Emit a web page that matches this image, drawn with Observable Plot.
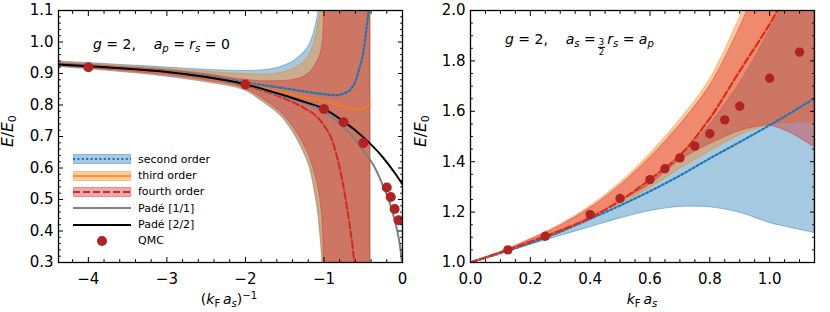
<!DOCTYPE html>
<html><head><meta charset="utf-8">
<script src="https://cdn.jsdelivr.net/npm/d3@7"></script>
<script src="https://cdn.jsdelivr.net/npm/@observablehq/plot@0.6"></script>
<style>
body{margin:0;background:#fff;}
#wrap{position:relative;width:830px;height:312px;font-family:"DejaVu Sans",sans-serif;color:#000;overflow:hidden;}
.panel{position:absolute;top:0;}
.lbl{position:absolute;font-size:14px;white-space:nowrap;line-height:1;}
.ylbl{font-size:15.5px;}
.sb{font-size:0.72em;position:relative;top:0.28em;}
.sp{font-size:0.72em;position:relative;top:-0.45em;}
.frac{display:inline-flex;flex-direction:column;align-items:center;font-size:8.5px;vertical-align:-0.15em;line-height:1;margin:0 2px;}
.frac span:last-child{border-top:0.8px solid #000;padding:0 1px;}
.leg{position:absolute;left:73px;height:16px;display:flex;align-items:center;font-size:11px;white-space:nowrap;}
.leg svg{margin-right:7px;}
</style></head><body><div id="wrap"></div>
<script>
// ---------------- Left panel data ----------------
const L_bandX   = [-4.4,-4,-3.5,-3,-2.5,-2,-1.75,-1.5,-1.35,-1.25,-1.17,-1.11,-1.07,-1.04,-1.02,-1.0,-0.98,-0.41];
const L_blueHi  = [0.938,0.933,0.926,0.919,0.912,0.908,0.911,0.925,0.945,0.968,0.998,1.045,1.1,1.2,1.3,1.3,1.3,1.3];
const L_blueLo  = [0.921,0.914,0.903,0.890,0.872,0.845,0.805,0.752,0.695,0.645,0.592,0.515,0.45,0.37,0.306,0.2,0.1,0.1];
const L_orangeHi= [0.936,0.931,0.923,0.915,0.906,0.898,0.897,0.905,0.92,0.937,0.965,1.01,1.06,1.11,1.3,1.3,1.3,1.3];
const L_orangeLo= [0.922,0.915,0.904,0.892,0.874,0.848,0.808,0.755,0.70,0.65,0.598,0.522,0.458,0.38,0.315,0.22,0.1,0.1];
const L_redHi   = [0.933,0.928,0.92,0.911,0.898,0.88,0.875,0.876,0.882,0.89,0.905,0.925,0.945,0.965,0.99,1.06,1.3,1.3];
const L_redLo   = [0.924,0.917,0.907,0.895,0.878,0.852,0.815,0.765,0.715,0.672,0.628,0.578,0.535,0.49,0.44,0.33,0.15,0.1];

const L_secondX = [-4.4,-4,-3.5,-3,-2.5,-2,-1.75,-1.5,-1.25,-1,-0.85,-0.75,-0.65,-0.6,-0.55,-0.5,-0.47,-0.44,-0.42];
const L_second  = [0.93,0.925,0.917,0.908,0.893,0.872,0.862,0.853,0.843,0.834,0.831,0.836,0.853,0.875,0.915,0.965,1.02,1.08,1.12];
const L_thirdX  = [-4.4,-4,-3,-2,-1.5,-1.25,-1,-0.85,-0.75,-0.65,-0.55,-0.48,-0.41];
const L_third   = [0.929,0.924,0.907,0.868,0.838,0.825,0.812,0.803,0.795,0.789,0.786,0.79,0.803];
const L_fourthX = [-4.4,-4,-3,-2,-1.5,-1.25,-1.1,-1,-0.9,-0.8,-0.73,-0.68,-0.64,-0.61];
const L_fourth  = [0.929,0.923,0.905,0.862,0.82,0.79,0.765,0.735,0.69,0.6,0.51,0.43,0.36,0.29];
const L_pade11X = [-4.4,-4,-3,-2,-1.5,-1.25,-1,-0.75,-0.5,-0.35,-0.25,-0.15,-0.1,-0.05,-0.02,0];
const L_pade11  = [0.929,0.923,0.905,0.864,0.826,0.805,0.778,0.73,0.656,0.6,0.545,0.48,0.435,0.38,0.33,0.28];
const L_pade22X = [-4.4,-4,-3.5,-3,-2.5,-2,-1.5,-1.25,-1,-0.75,-0.5,-0.25,-0.1,0];
const L_pade22  = [0.929,0.923,0.915,0.905,0.889,0.866,0.83,0.81,0.788,0.748,0.698,0.634,0.585,0.548];
const L_qmcX    = [-4,-2,-1,-0.75,-0.5,-0.2,-0.15,-0.1,-0.05];
const L_qmcY    = [0.92,0.865,0.787,0.745,0.679,0.538,0.508,0.47,0.434];

const L_xTicks  = [-4,-3,-2,-1,0];
const L_yTicks  = [0.3,0.4,0.5,0.6,0.7,0.8,0.9,1.0,1.1];

// ---------------- Right panel data ----------------
const R_bandX   = [0,0.1,0.2,0.3,0.4,0.5,0.6,0.7,0.8,0.9,0.95,1.0,1.05,1.1,1.15];
const R_blueLo  = [1,1.035,1.07,1.105,1.14,1.175,1.204,1.22,1.219,1.198,1.178,1.157,1.143,1.13,1.117];
const R_blueHi  = [1,1.04,1.082,1.127,1.177,1.243,1.325,1.42,1.545,1.71,1.81,1.92,2.03,2.15,2.3];
const R_orangeLo= [1,1.034,1.072,1.115,1.175,1.232,1.295,1.372,1.44,1.505,1.527,1.546,1.553,1.557,1.558];
const R_orangeHi= [1,1.042,1.093,1.15,1.222,1.315,1.43,1.565,1.725,1.97,2.1,2.25,2.35,2.45,2.55];
const R_redLo   = [1,1.035,1.075,1.12,1.18,1.242,1.31,1.405,1.47,1.522,1.537,1.544,1.525,1.495,1.457];
const R_redHi   = [1,1.04,1.09,1.145,1.215,1.305,1.415,1.545,1.70,1.93,2.07,2.2,2.3,2.4,2.5];

const R_secondX = [0,0.1,0.2,0.3,0.4,0.5,0.6,0.7,0.8,0.9,1.0,1.1,1.15];
const R_second  = [1,1.037,1.077,1.122,1.173,1.226,1.283,1.345,1.413,1.478,1.545,1.615,1.652];
const R_higherX = [0,0.1,0.2,0.3,0.4,0.5,0.6,0.7,0.8,0.9,1.0,1.05];
const R_third   = [1,1.04,1.083,1.128,1.178,1.246,1.33,1.427,1.575,1.765,1.95,2.06];
const R_fourth  = [1,1.04,1.083,1.127,1.177,1.245,1.33,1.425,1.572,1.76,1.945,2.05];
const R_qmcX    = [0.125,0.25,0.4,0.5,0.6,0.65,0.7,0.75,0.8,0.85,0.9,1.0,1.1];
const R_qmcY    = [1.05,1.104,1.19,1.254,1.329,1.372,1.415,1.462,1.511,1.566,1.62,1.731,1.835];

const R_xTicks  = [0,0.2,0.4,0.6,0.8,1.0];
const R_yTicks  = [1.0,1.2,1.4,1.6,1.8,2.0];

// ---------------- styling ----------------
const C = {blue:"#1f77b4", orange:"#ff7f0e", red:"#d62728", grey:"#808080", qmc:"#b22222"};
const bandA = 0.4;
const DOT = "2,2.4", DASH = "7,3";

function minorTicks(lo, hi, step, majors) {
  const n0 = Math.ceil(lo/step - 1e-9), n1 = Math.floor(hi/step + 1e-9);
  return d3.range(n0, n1+1).map(k => +(k*step).toFixed(6))
    .filter(v => !majors.some(m => Math.abs(m - v) < 1e-6));
}

function axes(xMaj, xMin, yMaj, yMin, xFmt, yFmt) {
  const out = [
    Plot.axisX({anchor:"bottom", ticks:xMaj, tickFormat:xFmt, tickSize:0, tickPadding:11, label:null}),
    Plot.axisY({anchor:"left", ticks:yMaj, tickFormat:yFmt, tickSize:0, tickPadding:5, label:null})
  ];
  for (const a of ["bottom","top"]) {
    out.push(Plot.axisX({anchor:a, ticks:xMaj, tickSize:-5, fill:"none", label:null}));
    out.push(Plot.axisX({anchor:a, ticks:xMin, tickSize:-2.8, fill:"none", label:null}));
  }
  for (const a of ["left","right"]) {
    out.push(Plot.axisY({anchor:a, ticks:yMaj, tickSize:-5, fill:"none", label:null}));
    out.push(Plot.axisY({anchor:a, ticks:yMin, tickSize:-2.8, fill:"none", label:null}));
  }
  return out;
}

function band(xs, lo, hi, color, curve) {
  return Plot.areaY(xs, {x: xs, y1: lo, y2: hi, fill: color, fillOpacity: bandA,
    stroke: color, strokeOpacity: bandA, strokeWidth: 1.1, curve, clip: true});
}
function line(xs, ys, color, curve, extra = {}) {
  return Plot.lineY(ys, {x: xs, y: ys, stroke: color, strokeWidth: 2, curve, clip: true, ...extra});
}

const style = {fontFamily:"DejaVu Sans, sans-serif", fontSize:"15px", color:"#000", background:"transparent", overflow:"visible"};
const f1 = d3.format(".1f"), fd = d3.format("d");

const LC = "monotone-x";
const leftDomX = [-4.38, 0];
const left = Plot.plot({
  width: 415, height: 312, marginLeft: 58, marginRight: 13, marginTop: 10, marginBottom: 50,
  style,
  x: {domain: leftDomX}, y: {domain: [0.3, 1.1]},
  marks: [
    band(L_bandX, L_blueLo, L_blueHi, C.blue, LC),
    band(L_bandX, L_orangeLo, L_orangeHi, C.orange, LC),
    band(L_bandX, L_redLo, L_redHi, C.red, LC),
    line(L_secondX, L_second, C.blue, LC, {strokeDasharray: DOT, strokeWidth: 2.2}),
    line(L_thirdX, L_third, C.orange, LC, {strokeOpacity: 0.75}),
    line(L_fourthX, L_fourth, C.red, LC, {strokeDasharray: DASH}),
    line(L_pade11X, L_pade11, C.grey, LC),
    line(L_pade22X, L_pade22, "#000", LC),
    Plot.dot(L_qmcX, {x: L_qmcX, y: L_qmcY, r: 5, fill: C.qmc, clip: true}),
    Plot.frame({stroke:"#000", strokeWidth:1.3}),
    ...axes(L_xTicks, minorTicks(leftDomX[0], 0, 0.2, L_xTicks), L_yTicks, minorTicks(0.3, 1.1, 0.02, L_yTicks), fd, f1)
  ]
});

const RC = "catmull-rom";
const rightDomX = [0, 1.15];
const right = Plot.plot({
  width: 415, height: 312, marginLeft: 55, marginRight: 16, marginTop: 10, marginBottom: 50,
  style,
  x: {domain: rightDomX}, y: {domain: [1.0, 2.0]},
  marks: [
    band(R_bandX, R_blueLo, R_blueHi, C.blue, RC),
    band(R_bandX, R_orangeLo, R_orangeHi, C.orange, RC),
    band(R_bandX, R_redLo, R_redHi, C.red, RC),
    line(R_secondX, R_second, C.blue, RC, {strokeDasharray: DOT, strokeWidth: 2.2}),
    line(R_higherX, R_third, C.orange, RC, {strokeOpacity: 0.75}),
    line(R_higherX, R_fourth, C.red, RC, {strokeDasharray: DASH}),
    Plot.dot(R_qmcX, {x: R_qmcX, y: R_qmcY, r: 4.7, fill: C.qmc, clip: true}),
    Plot.frame({stroke:"#000", strokeWidth:1.3}),
    ...axes(R_xTicks, minorTicks(0, 1.15, 0.05, R_xTicks), R_yTicks, minorTicks(1.0, 2.0, 0.05, R_yTicks), f1, f1)
  ]
});

const wrap = document.getElementById("wrap");
const p1 = document.createElement("div"); p1.className = "panel"; p1.style.left = "0px"; p1.appendChild(left);
const p2 = document.createElement("div"); p2.className = "panel"; p2.style.left = "415px"; p2.appendChild(right);
wrap.appendChild(p1); wrap.appendChild(p2);

function addLabel(html, cx, cy, rotate, cls) {
  const d = document.createElement("div");
  d.className = "lbl" + (cls ? " " + cls : "");
  d.innerHTML = html;
  d.style.left = cx + "px"; d.style.top = cy + "px";
  d.style.transform = "translate(-50%,-50%)" + (rotate ? " rotate(-90deg)" : "");
  wrap.appendChild(d);
}
const EE0 = '<i>E</i>/<i>E</i><span class="sb">0</span>';
addLabel(EE0, 9, 131, true, "ylbl");
addLabel(EE0, 422, 131, true, "ylbl");
addLabel('(<i>k</i><span class="sb">F</span>&#8201;<i>a</i><span class="sb"><i>s</i></span>)<span class="sp">&#8722;1</span>', 229, 299);
addLabel('<i>k</i><span class="sb">F</span>&#8201;<i>a</i><span class="sb"><i>s</i></span>', 642, 299);

function addText(html, x, cy) {
  const d = document.createElement("div");
  d.className = "lbl"; d.innerHTML = html;
  d.style.left = x + "px"; d.style.top = cy + "px"; d.style.transform = "translate(0,-50%)";
  wrap.appendChild(d);
}
addText('<i>g</i> = 2,&nbsp;&nbsp;&nbsp;&nbsp;<i>a</i><span class="sb"><i>p</i></span> = <i>r</i><span class="sb"><i>s</i></span> = 0', 93, 44);
addText('<i>g</i> = 2,&nbsp;&nbsp;&nbsp;&nbsp;<i>a</i><span class="sb"><i>s</i></span> =<span class="frac"><span>3</span><span>2</span></span><i>r</i><span class="sb"><i>s</i></span> = <i>a</i><span class="sb"><i>p</i></span>', 505, 44);

// ---------------- legend ----------------
const legendItems = [
  {label:"second order", band:C.blue, color:C.blue, dash:DOT, w:2.2, op:1},
  {label:"third order", band:C.orange, color:C.orange, dash:null, w:2, op:0.75},
  {label:"fourth order", band:C.red, color:C.red, dash:DASH, w:2, op:1},
  {label:"Padé [1/1]", band:null, color:C.grey, dash:null, w:2, op:1},
  {label:"Padé [2/2]", band:null, color:"#000", dash:null, w:2, op:1},
  {label:"QMC", dot:C.qmc}
];
legendItems.forEach((it, i) => {
  const row = document.createElement("div");
  row.className = "leg";
  row.style.top = (151.3 + i * 16.3) + "px";
  let svg = '<svg width="58" height="16" viewBox="0 0 58 16">';
  if (it.band) svg += `<rect x="0.5" y="3.5" width="57" height="9" fill="${it.band}" fill-opacity="${bandA}" stroke="${it.band}" stroke-opacity="${bandA}"/>`;
  if (it.dot) svg += `<circle cx="29" cy="8" r="5" fill="${it.dot}"/>`;
  else svg += `<line x1="0" y1="8" x2="58" y2="8" stroke="${it.color}" stroke-opacity="${it.op}" stroke-width="${it.w}" ${it.dash ? `stroke-dasharray="${it.dash}"` : ""}/>`;
  svg += '</svg>';
  row.innerHTML = svg + '<span>' + it.label + '</span>';
  wrap.appendChild(row);
});
</script></body></html>
